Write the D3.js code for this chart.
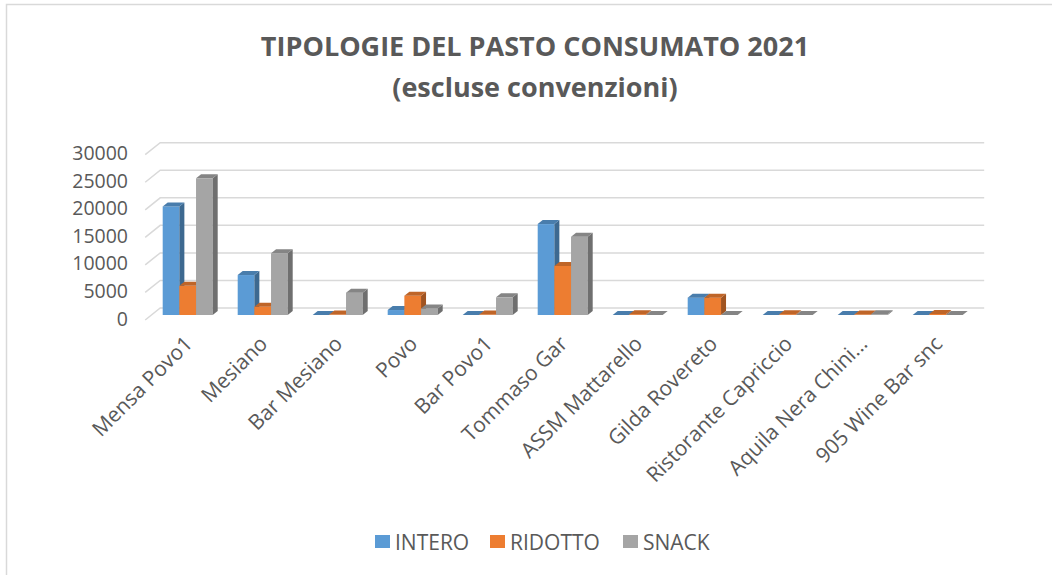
<!DOCTYPE html>
<html>
<head>
<meta charset="utf-8">
<script src="https://cdn.jsdelivr.net/npm/d3@7"></script>
<style>
  body { margin: 0; background: #fff; }
  text { font-family: "Open Sans", sans-serif; fill: #595959; }
</style>
</head>
<body>
<svg id="chart"></svg>
<script>
// data
var categories = ["Mensa Povo1", "Mesiano", "Bar Mesiano", "Povo", "Bar Povo1", "Tommaso Gar",
  "ASSM Mattarello", "Gilda Rovereto", "Ristorante Capriccio", "Aquila Nera Chini...", "905 Wine Bar snc"];
var seriesNames = ["INTERO", "RIDOTTO", "SNACK"];
var intero  = [19700, 7250, 0, 900, 0, 16500, 0, 3150, 0, 0, 0];
var ridotto = [5300, 1500, 100, 3500, 100, 8900, 150, 3150, 150, 100, 200];
var snack   = [24800, 11200, 4050, 1200, 3200, 14200, 0, 0, 0, 150, 0];
var yTicks = [0, 5000, 10000, 15000, 20000, 25000, 30000];
var colors = ["#5B9BD5", "#ED7D31", "#A5A5A5"];

var width = 1052, height = 575;
var svg = d3.select('#chart').attr('width', width).attr('height', height);

// chart border (only top/left visible in the crop)
svg.append('rect')
  .attr('x', 6.5).attr('y', 4.5).attr('width', 1100).attr('height', 600)
  .attr('fill', 'none').attr('stroke', '#d9d9d9').attr('stroke-width', 1.5);

// title
var title = svg.append('text')
  .attr('text-anchor', 'middle')
  .style('font-weight', 'bold')
  .style('font-size', '27px');
title.append('tspan').attr('x', 535).attr('y', 56).text('TIPOLOGIE DEL PASTO CONSUMATO 2021');
title.append('tspan').attr('x', 535).attr('y', 97).text('(escluse convenzioni)');

/* scales */
var x0 = d3.scaleBand().domain(categories).range([150.2, 975.2]).padding(0);
// cluster takes 2/3 of the band
var x1 = d3.scaleBand().domain(seriesNames)
  .range([x0.bandwidth() / 6, x0.bandwidth() * 5 / 6]).padding(0);
var y = d3.scaleLinear().domain([0, 30000]).range([315, 149.7]);

// depth offsets
var backX = 10, backY = -7, frontX = -5, frontY = 5;
var dx = 5, dy = -4;

// gridlines (back wall + left side edge)
var grid = svg.append('g');
yTicks.forEach(function (v) {
  grid.append('path')
    .attr('d', 'M' + (x0.range()[0] + frontX) + ',' + (y(v) + frontY) +
      'L' + (x0.range()[0] + backX) + ',' + (y(v) + backY) +
      'L' + (x0.range()[1] + backX - 1) + ',' + (y(v) + backY))
    .attr('fill', 'none')
    .attr('stroke', '#d9d9d9')
    .attr('stroke-width', 1.5);
});

// y labels
svg.append('g').selectAll('text').data(yTicks).enter()
  .append('text')
    .attr('x', 128)
    .attr('y', function (d) { return y(d) + 3; })
    .attr('text-anchor', 'end')
    .attr('dominant-baseline', 'central')
    .style('font-size', '19.5px')
    .text(function (d) { return d; });

// bars
var series = [intero, ridotto, snack];
var bars = svg.append('g');
categories.forEach(function (c, i) {
  series.forEach(function (vals, s) {
    var bx = x0(c) + x1(seriesNames[s]);
    var w = x1.bandwidth();
    var yt = y(vals[i]), yb = y(0);
    var base = d3.color(colors[s]);
    var g = bars.append('g');
    g.append('rect')
      .attr('x', bx).attr('y', yt).attr('width', w).attr('height', yb - yt)
      .attr('fill', colors[s]);
    g.append('path')
      .attr('d', 'M' + (bx + w) + ',' + yt + 'L' + (bx + w + dx) + ',' + (yt + dy) +
        'L' + (bx + w + dx) + ',' + (yb + dy) + 'L' + (bx + w) + ',' + yb + 'Z')
      .attr('fill', base.darker(1.1));
    g.append('path')
      .attr('d', 'M' + bx + ',' + yt + 'L' + (bx + dx) + ',' + (yt + dy) +
        'L' + (bx + w + dx) + ',' + (yt + dy) + 'L' + (bx + w) + ',' + yt + 'Z')
      .attr('fill', base.darker(0.6));
  });
});

// x labels
svg.append('g').selectAll('text').data(categories).enter()
  .append('text')
    .attr('transform', function (d) {
      return 'translate(' + (x0(d) + x0.bandwidth() / 2 + 6) + ',' + 345 + ') rotate(-45)';
    })
    .attr('text-anchor', 'end')
    .style('font-size', '21px')
    .text(function (d) { return d; });

// legend
var legendX = [375, 490, 623];
var legend = svg.append('g').selectAll('g').data(seriesNames).enter()
  .append('g')
    .attr('transform', function (d, i) { return 'translate(' + legendX[i] + ',542)'; });
legend.append('rect')
  .attr('x', 0).attr('y', -7).attr('width', 15).attr('height', 13)
  .attr('fill', function (d, i) { return colors[i]; });
legend.append('text')
  .attr('x', 20).attr('y', 0)
  .attr('dominant-baseline', 'central')
  .style('font-size', '21px')
  .text(function (d) { return d; });
</script>
</body>
</html>
